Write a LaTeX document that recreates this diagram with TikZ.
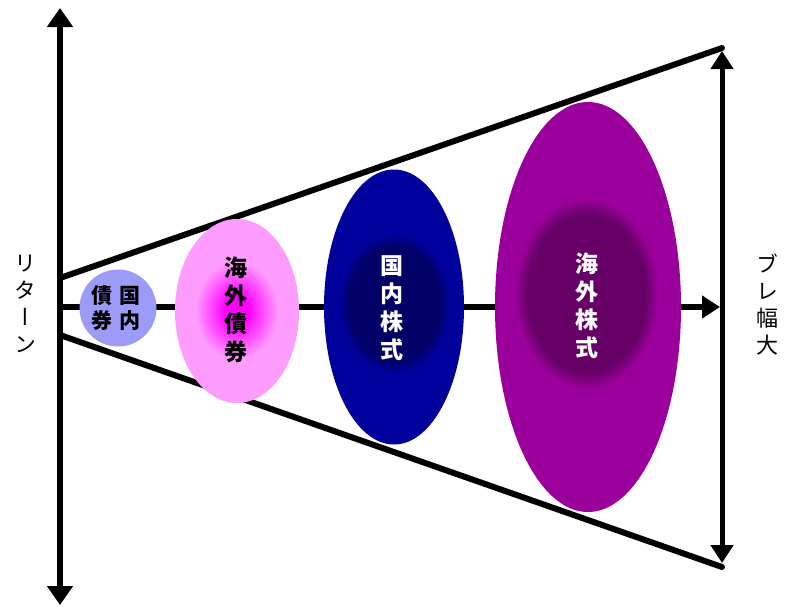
\documentclass[tikz,border=0pt]{standalone}
\usepackage{fontspec}
\newfontfamily\jp{Noto Sans CJK JP}
\newfontfamily\jpv[RawFeature=+vert]{Noto Sans CJK JP}
\usetikzlibrary{arrows.meta,shapes.geometric}
\definecolor{kokusai}{HTML}{9C9CF8}
\definecolor{gaisaiout}{HTML}{FF9CFF}
\definecolor{gaisaiin}{HTML}{FF00FF}
\definecolor{kokukabuout}{HTML}{00009C}
\definecolor{kokukabuin}{HTML}{000066}
\definecolor{gaikabuout}{HTML}{9C009C}
\definecolor{gaikabuin}{HTML}{660066}
% soft-edged core: center, rx, ry, plateau fraction, inner colour, outer colour
\newcommand\softcore[6]{%
  \foreach \k in {0,...,24}{%
    \pgfmathsetmacro\ff{1-\k/24*(1-#4)}%
    \pgfmathtruncatemacro\mm{round(\k/24*100)}%
    \fill[#5!\mm!#6] #1 ellipse [x radius={\ff*#2pt}, y radius={\ff*#3pt}];%
  }}
\tikzset{
  axisline/.style={line width=6pt, black},
  blob/.style={ellipse, inner sep=0pt, draw=none},
  vtext/.style={align=center, inner sep=0pt, font=\jpv\bfseries\fontsize{23pt}{28pt}\selectfont},
  stext/.style={align=center, inner sep=0pt, font=\jpv\bfseries\fontsize{21pt}{25pt}\selectfont},
  ltext/.style={align=center, inner sep=0pt, font=\jpv\fontsize{22pt}{27pt}\selectfont},
}
\begin{document}
\begin{tikzpicture}[x=1pt,y=-1pt]
\useasboundingbox (0,0) rectangle (800,614);
% coordinates
\coordinate (ltop) at (60,8);
\coordinate (lbot) at (60,605);
\coordinate (ua) at (60,278);
\coordinate (ub) at (722,48);
\coordinate (la) at (60,335);
\coordinate (lb) at (722,567);
\coordinate (h0) at (60,307);
\coordinate (h1) at (720,307);
\coordinate (r0) at (722,51);
\coordinate (r1) at (722,563);
% axes and cone
\draw[axisline, {Triangle[length=19pt,width=25pt]}-{Triangle[length=19pt,width=25pt]}] (ltop) -- (lbot);
\draw[axisline, line cap=round] (ua) -- (ub);
\draw[axisline, line cap=round] (la) -- (lb);
\draw[axisline, -{Triangle[length=18pt,width=22pt]}] (h0) -- (h1);
\draw[line width=5pt, {Triangle[length=18pt,width=22pt]}-{Triangle[length=18pt,width=22pt]}] (r0) -- (r1);
% ellipses
\node[blob, fill=kokusai, minimum width=77pt, minimum height=77pt] (kb) at (118,308) {};
\node[blob, fill=gaisaiout, minimum width=124pt, minimum height=184pt] (gb) at (237,311) {};
\softcore{(237,311)}{42}{50}{0.3}{gaisaiin}{gaisaiout}
\node[blob, fill=kokukabuout, minimum width=140pt, minimum height=275pt] (ks) at (394,307) {};
\softcore{(395,304)}{56}{70}{0.8}{kokukabuin}{kokukabuout}
\node[blob, fill=gaikabuout, minimum width=186pt, minimum height=410pt] (gs) at (588,307) {};
\softcore{(587,294)}{72}{96}{0.82}{gaikabuin}{gaikabuout}
% texts
\node[stext] (kb1) at (130,308) {国\\内};
\node[stext] (kb2) at (102,308) {債\\券};
\node[vtext] (gbt) at (236,310) {海\\外\\債\\券};
\node[vtext, text=white] (kst) at (392,308) {国\\内\\株\\式};
\node[vtext, text=white] (gst) at (587,306) {海\\外\\株\\式};
\node[ltext] (ret) at (25,304) {リ\\タ\\ー\\ン};
\node[ltext] (bure) at (767,305) {ブ\\レ\\幅\\大};
\end{tikzpicture}
\end{document}
